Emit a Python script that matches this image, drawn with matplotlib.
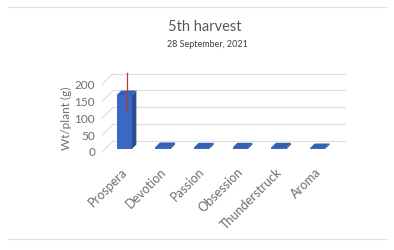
import matplotlib
matplotlib.use("Agg")
import matplotlib.pyplot as plt
from matplotlib.patches import Polygon
from matplotlib.lines import Line2D
import matplotlib.transforms as mtransforms
import numpy as np

categories = ["Prospera", "Devotion", "Passion", "Obsession", "Thunderstruck", "Aroma"]
values = [160, 6, 5, 5, 5, 3]
errors = [58, 1, 1, 1, 1, 1]
yticks = [0, 50, 100, 150, 200]
title = "5th harvest"
subtitle = "28 September, 2021"
ylabel = "Wt/plant (g)"

W, H, DPI = 394, 250, 100
plt.rcParams['font.family'] = ['Lato', 'DejaVu Sans']
fig = plt.figure(figsize=(W / DPI, H / DPI), dpi=DPI)
fig.patch.set_facecolor('white')

# front floor plane in pixels (from top)
left_px, width_px = 102, 232
y0_px, h_px = 152, 67.5
ax = fig.add_axes([left_px / W, (H - y0_px) / H, width_px / W, h_px / H])
ax.set_xlim(-0.5, len(categories) - 0.5)
ax.set_ylim(0, 200)
ax.patch.set_alpha(0)
for s in ax.spines.values():
    s.set_visible(False)
ax.tick_params(length=0)

wall = np.array([11.0, 11.0])   # back-wall offset (px)
front = np.array([3.0, 3.0])    # bar front offset (px)
depth = np.array([4.5, 4.5])    # bar depth (px)
grid_c = '#DEDEDE'

def D(x, y):
    return ax.transData.transform((x, y))

xmin, xmax = ax.get_xlim()
for t in yticks:
    a = D(xmin, t) + wall
    b = D(xmax, t) + wall
    fig.add_artist(Line2D([a[0], b[0]], [a[1], b[1]], transform=None, color=grid_c, lw=0.8, zorder=1))
    c = D(xmin, t)
    fig.add_artist(Line2D([c[0], a[0]], [c[1], a[1]], transform=None, color=grid_c, lw=0.8, zorder=1))

bw = 0.39
c_front, c_side, c_top = '#3A68C4', '#2A4C91', '#3260B4'
for i, (v, e) in enumerate(zip(values, errors)):
    x0, x1 = i - bw / 2, i + bw / 2
    p00 = D(x0, 0) + front; p10 = D(x1, 0) + front
    p0v = D(x0, v) + front; p1v = D(x1, v) + front
    fig.add_artist(Polygon([p00, p10, p1v, p0v], closed=True, transform=None,
                           facecolor=c_front, edgecolor='none', zorder=3))
    fig.add_artist(Polygon([p10, p10 + depth, p1v + depth, p1v], closed=True, transform=None,
                           facecolor=c_side, edgecolor='none', zorder=3))
    fig.add_artist(Polygon([p0v, p1v, p1v + depth, p0v + depth], closed=True, transform=None,
                           facecolor=c_top, edgecolor='none', zorder=3))
    if e > 5:
        lo = D(i, v - e) + front + depth / 2
        hi = D(i, v + e) + front + depth / 2
        fig.add_artist(Line2D([lo[0], hi[0]], [lo[1], hi[1]], transform=None, color='#C0392B', lw=0.9, zorder=4))

ax.set_yticks(yticks)
ax.set_yticklabels([str(t) for t in yticks], fontsize=8.5, color='#6E6E6E')
ax.tick_params(axis='y', pad=5)
ax.set_xticks(range(len(categories)))
ax.set_xticklabels(categories, fontsize=9, color='#6E6E6E', rotation=45,
                   ha='right', va='center', rotation_mode='anchor')
ax.tick_params(axis='x', pad=13)
shift = mtransforms.ScaledTranslation(4 / DPI, 0, fig.dpi_scale_trans)
for lab in ax.get_xticklabels():
    lab.set_transform(lab.get_transform() + shift)

fig.text(66 / W, 1 - 118 / H, ylabel, rotation=90, ha='center', va='center', fontsize=8.5, color='#6E6E6E')
fig.text(205 / W, 1 - 27 / H, title, ha='center', va='center', fontsize=10.5, color='#595959')
fig.text(207 / W, 1 - 45 / H, subtitle, ha='center', va='center', fontsize=6.5, color='#404040')

fig.add_artist(Line2D([0.02, 0.98], [1 - 7 / H, 1 - 7 / H], transform=fig.transFigure, color='#DDDDDD', lw=0.8))
fig.add_artist(Line2D([0.02, 0.98], [1 - 239 / H, 1 - 239 / H], transform=fig.transFigure, color='#DDDDDD', lw=0.8))

fig.savefig('out.png', dpi=DPI)
